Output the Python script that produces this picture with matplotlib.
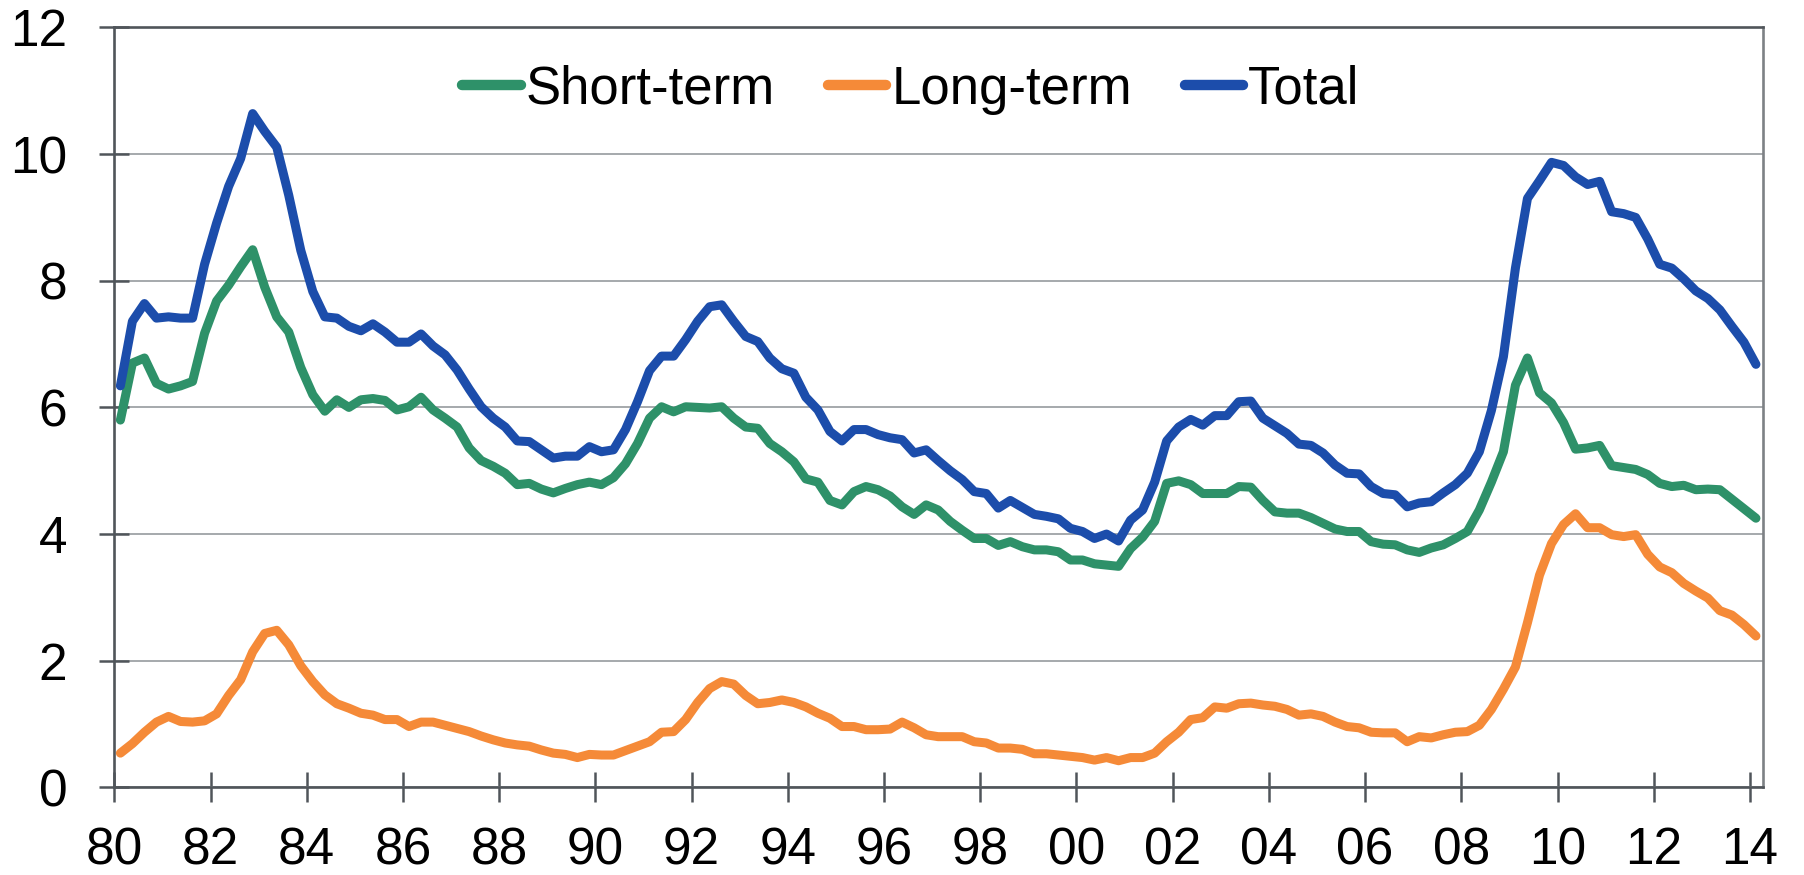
import numpy as np
import matplotlib
matplotlib.use("Agg")
import matplotlib.pyplot as plt

plt.rcParams['font.family'] = ['Liberation Sans', 'DejaVu Sans']

# Quarterly series, 1980Q1 .. 2014Q1
start_year = 1980
short_term = [
    5.80, 6.70, 6.78, 6.38, 6.29, 6.34, 6.41, 7.17, 7.68, 7.93,
    8.22, 8.49, 7.90, 7.43, 7.19, 6.63, 6.20, 5.94, 6.12, 6.00,
    6.12, 6.14, 6.11, 5.96, 6.01, 6.16, 5.96, 5.83, 5.69, 5.36,
    5.16, 5.07, 4.96, 4.78, 4.80, 4.71, 4.65, 4.72, 4.78, 4.82,
    4.78, 4.89, 5.11, 5.43, 5.83, 6.01, 5.93, 6.01, 6.00, 5.99,
    6.01, 5.83, 5.69, 5.67, 5.43, 5.30, 5.14, 4.87, 4.82, 4.53,
    4.46, 4.67, 4.75, 4.70, 4.60, 4.43, 4.31, 4.46, 4.38, 4.20,
    4.06, 3.93, 3.93, 3.82, 3.88, 3.80, 3.75, 3.75, 3.72, 3.59,
    3.59, 3.53, 3.51, 3.49, 3.77, 3.95, 4.20, 4.80, 4.84, 4.78,
    4.64, 4.64, 4.64, 4.75, 4.74, 4.53, 4.35, 4.33, 4.33, 4.26,
    4.17, 4.08, 4.04, 4.04, 3.88, 3.84, 3.83, 3.75, 3.71, 3.78,
    3.83, 3.93, 4.04, 4.38, 4.82, 5.30, 6.35, 6.78, 6.23, 6.07,
    5.76, 5.34, 5.36, 5.40, 5.08, 5.05, 5.02, 4.94, 4.80, 4.75,
    4.77, 4.70, 4.71, 4.70, 4.55, 4.40, 4.25,
]
long_term = [
    0.54, 0.69, 0.87, 1.03, 1.12, 1.04, 1.03, 1.05, 1.16, 1.45,
    1.70, 2.14, 2.43, 2.48, 2.25, 1.92, 1.67, 1.46, 1.32, 1.25,
    1.17, 1.14, 1.07, 1.07, 0.96, 1.03, 1.03, 0.98, 0.93, 0.88,
    0.81, 0.75, 0.70, 0.67, 0.65, 0.59, 0.54, 0.52, 0.47, 0.52,
    0.51, 0.51, 0.58, 0.65, 0.72, 0.87, 0.88, 1.07, 1.34, 1.56,
    1.67, 1.63, 1.45, 1.32, 1.34, 1.38, 1.34, 1.27, 1.17, 1.09,
    0.96, 0.96, 0.91, 0.91, 0.92, 1.03, 0.94, 0.83, 0.80, 0.80,
    0.80, 0.72, 0.70, 0.62, 0.62, 0.60, 0.53, 0.53, 0.51, 0.49,
    0.47, 0.43, 0.47, 0.42, 0.47, 0.47, 0.54, 0.72, 0.87, 1.07,
    1.10, 1.27, 1.25, 1.32, 1.33, 1.30, 1.28, 1.23, 1.14, 1.16,
    1.12, 1.03, 0.96, 0.94, 0.87, 0.86, 0.86, 0.72, 0.80, 0.78,
    0.83, 0.87, 0.88, 0.98, 1.23, 1.55, 1.90, 2.60, 3.35, 3.85,
    4.15, 4.32, 4.10, 4.10, 3.99, 3.96, 3.99, 3.68, 3.48, 3.39,
    3.22, 3.10, 2.99, 2.79, 2.72, 2.57, 2.39,
]
total = [
    6.34, 7.36, 7.64, 7.41, 7.43, 7.41, 7.41, 8.26, 8.91, 9.49,
    9.93, 10.64, 10.36, 10.11, 9.35, 8.48, 7.83, 7.43, 7.41, 7.28,
    7.21, 7.32, 7.19, 7.03, 7.03, 7.16, 6.97, 6.83, 6.59, 6.29,
    6.01, 5.83, 5.69, 5.47, 5.46, 5.33, 5.20, 5.23, 5.23, 5.38,
    5.30, 5.33, 5.65, 6.09, 6.58, 6.81, 6.81, 7.07, 7.36, 7.59,
    7.62, 7.36, 7.12, 7.04, 6.78, 6.61, 6.54, 6.16, 5.96, 5.62,
    5.47, 5.65, 5.65, 5.57, 5.52, 5.49, 5.28, 5.33, 5.16, 5.00,
    4.86, 4.67, 4.64, 4.41, 4.53, 4.42, 4.31, 4.28, 4.24, 4.09,
    4.04, 3.93, 4.00, 3.89, 4.22, 4.38, 4.82, 5.47, 5.69, 5.81,
    5.72, 5.87, 5.87, 6.09, 6.10, 5.83, 5.71, 5.59, 5.42, 5.40,
    5.28, 5.09, 4.96, 4.95, 4.75, 4.64, 4.62, 4.43, 4.49, 4.51,
    4.65, 4.78, 4.96, 5.30, 5.95, 6.80, 8.20, 9.30, 9.58, 9.87,
    9.82, 9.64, 9.52, 9.57, 9.09, 9.06, 9.00, 8.66, 8.26, 8.20,
    8.03, 7.84, 7.72, 7.54, 7.28, 7.03, 6.68,
]
series_names = ["Short-term", "Long-term", "Total"]
tick_years = list(range(1980, 2015, 2))
tick_labels = [f"{y % 100:02d}" for y in tick_years]
y_ticks = [0, 2, 4, 6, 8, 10, 12]

colors = ["#2E9169", "#F58A38", "#1C4DAB"]

n = len(total)
dates = start_year + (np.arange(n) + 0.5) / 4.0

fig = plt.figure(figsize=(18.04, 8.75), dpi=100)
ax = fig.add_axes([0.0634, 0.1002, 0.9141, 0.8684])

for vals, name, c in zip([short_term, long_term, total], series_names, colors):
    ax.plot(dates, vals, color=c, lw=6.5, label=name,
            solid_capstyle='round', solid_joinstyle='round')

ax.set_xlim(1980, 2014.28)
ax.set_ylim(0, 12)
ax.set_xticks(tick_years)
ax.set_xticklabels(tick_labels)
ax.set_yticks(y_ticks)
ax.set_yticklabels([str(v) for v in y_ticks])

ax.grid(axis='y', color='#9ea2a6', lw=1.3)
ax.set_axisbelow(True)

spine_col = '#50555a'
for s in ax.spines.values():
    s.set_color(spine_col)
    s.set_linewidth(1.9)
ax.spines['right'].set_color('#7d8185')

ax.tick_params(axis='both', direction='inout', length=22, width=1.8,
               color=spine_col, labelsize=37, labelcolor='black')
ax.tick_params(axis='x', pad=17, top=False)
ax.tick_params(axis='y', pad=23, right=False)

leg = ax.legend(loc='center', bbox_to_anchor=(0.483, 0.918), ncol=3,
                frameon=False, fontsize=38, handlelength=1.1,
                handletextpad=0.1, columnspacing=1.0, borderpad=0)
for h in leg.get_lines():
    h.set_linewidth(7.5)
    h.set_solid_capstyle('round')

fig.savefig('out.png', dpi=100, facecolor='white')
